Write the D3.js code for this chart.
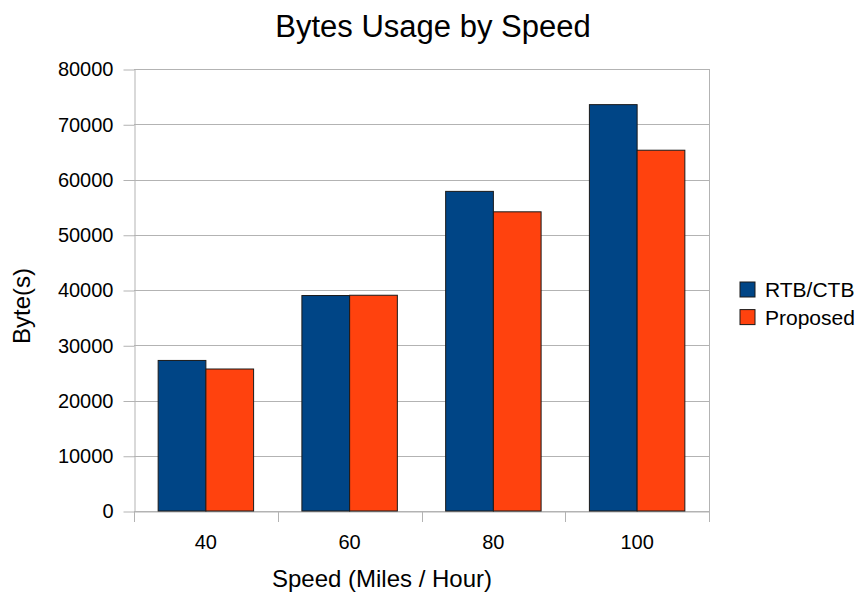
<!DOCTYPE html>
<html>
<head>
<meta charset="utf-8">
<script src="https://cdn.jsdelivr.net/npm/d3@7"></script>
<style>
  body { margin: 0; background: #fff; }
  text { font-family: "Liberation Sans", Arial, sans-serif; fill: #000; }
</style>
</head>
<body>
<div class="chart"></div>
<script>
// data
var speeds = ['40', '60', '80', '100'];
var seriesNames = ['RTB/CTB', 'Proposed'];
var rtbValues = [27250, 39000, 57850, 73550];
var proposedValues = [25700, 39050, 54150, 65300];
var yTicks = [0, 10000, 20000, 30000, 40000, 50000, 60000, 70000, 80000];
var colors = ['#004586', '#ff420e'];

var W = 861, H = 599;
// note: "top" is reserved on window, so plot edges get their own names
var plotLeft = 134, plotRight = 709, plotTop = 69, plotBottom = 511;

var svg = d3.select('.chart')
  .append('svg')
  .attr('width', W)
  .attr('height', H);

var x0 = d3.scaleBand()
  .domain(speeds)
  .range([plotLeft, plotRight])
  .padding(0);

var bw = x0.bandwidth();
var x1 = d3.scaleBand()
  .domain(seriesNames)
  .range([bw * 0.168, bw * 0.832]);

var y = d3.scaleLinear()
  .domain([0, 80000])
  .range([plotBottom, plotTop]);

var color = d3.scaleOrdinal().domain(seriesNames).range(colors);

// grid lines
svg.append('g')
  .selectAll('line')
  .data(yTicks)
  .enter()
  .append('line')
  .attr('x1', plotLeft)
  .attr('x2', plotRight)
  .attr('y1', d => Math.round(y(d)) + 0.5)
  .attr('y2', d => Math.round(y(d)) + 0.5)
  .style('stroke', '#b3b3b3')
  .style('stroke-width', 1);

// right border
svg.append('line')
  .attr('x1', plotRight + 0.5).attr('x2', plotRight + 0.5)
  .attr('y1', plotTop).attr('y2', plotBottom)
  .style('stroke', '#b3b3b3');

// y axis
var yAxis = svg.append('g')
  .attr('transform', 'translate(' + (plotLeft + 0.5) + ',0.5)')
  .call(d3.axisLeft(y).tickValues(yTicks).tickSize(11).tickSizeOuter(0).tickPadding(10).tickFormat(d3.format('d')));
yAxis.selectAll('line, path').style('stroke', '#b3b3b3');
yAxis.selectAll('text')
  .style('font-size', '20px')
  .style('font-family', '"Liberation Sans", Arial, sans-serif')
  .attr('fill', '#000');

// x axis boundary ticks
var bounds = speeds.map(d => x0(d)).concat([plotRight]);
svg.append('g')
  .selectAll('line')
  .data(bounds)
  .enter()
  .append('line')
  .attr('x1', d => Math.round(d) + 0.5)
  .attr('x2', d => Math.round(d) + 0.5)
  .attr('y1', plotBottom)
  .attr('y2', plotBottom + 11)
  .style('stroke', '#b3b3b3');

var xAxis = svg.append('g')
  .attr('transform', 'translate(0,' + (plotBottom + 0.5) + ')')
  .call(d3.axisBottom(x0).tickSize(0).tickPadding(23));
xAxis.select('.domain').style('stroke', '#b3b3b3');
xAxis.selectAll('text')
  .style('font-size', '20px')
  .style('font-family', '"Liberation Sans", Arial, sans-serif')
  .attr('fill', '#000');

// bars
var rows = speeds.map((s, i) => ({ speed: s, values: [
  { name: seriesNames[0], value: rtbValues[i] },
  { name: seriesNames[1], value: proposedValues[i] }
] }));

svg.append('g')
  .selectAll('g')
  .data(rows)
  .enter()
  .append('g')
  .attr('transform', d => 'translate(' + x0(d.speed) + ',0)')
  .selectAll('rect')
  .data(d => d.values)
  .enter()
  .append('rect')
  .attr('x', d => x1(d.name))
  .attr('y', d => y(d.value))
  .attr('width', x1.bandwidth())
  .attr('height', d => plotBottom - y(d.value))
  .style('fill', d => color(d.name))
  .style('stroke', '#1a1a1a')
  .style('stroke-width', 1);

// title
svg.append('text')
  .attr('x', 433)
  .attr('y', 37)
  .style('text-anchor', 'middle')
  .style('font-size', '31px')
  .text('Bytes Usage by Speed');

// axis titles
svg.append('text')
  .attr('x', 382)
  .attr('y', 587)
  .style('text-anchor', 'middle')
  .style('font-size', '24px')
  .text('Speed (Miles / Hour)');

svg.append('text')
  .attr('transform', 'translate(30,306) rotate(-90)')
  .style('text-anchor', 'middle')
  .style('font-size', '24px')
  .text('Byte(s)');

// legend
var legend = svg.append('g')
  .selectAll('g')
  .data(seriesNames)
  .enter()
  .append('g')
  .attr('transform', (d, i) => 'translate(740,' + (282 + i * 27.6) + ')');

legend.append('rect')
  .attr('width', 15)
  .attr('height', 15)
  .style('fill', d => color(d))
  .style('stroke', '#1a1a1a')
  .style('stroke-width', 1);

legend.append('text')
  .attr('x', 25)
  .attr('y', 15)
  .style('font-size', '21px')
  .text(d => d);
</script>
</body>
</html>
